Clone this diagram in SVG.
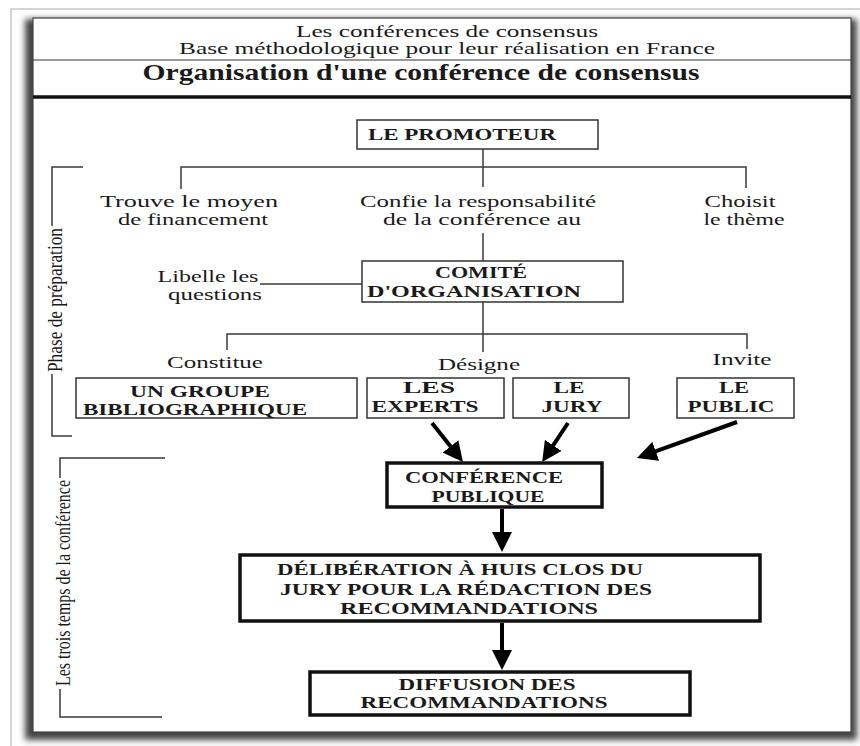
<svg xmlns="http://www.w3.org/2000/svg" width="860" height="746" viewBox="0 0 860 746">
<style>
  .t { font-family: "Liberation Serif", "Times New Roman", serif; fill: #1a1a1a; }
  .r { font-size: 16px; text-anchor: middle; }
  .b { font-size: 17px; font-weight: bold; text-anchor: middle; }
  .thin { fill: #fff; stroke: #333; stroke-width: 1.5; }
  .thick { fill: #fff; stroke: #111; stroke-width: 3.5; }
  .ln { fill: none; stroke: #3a3a3a; stroke-width: 1.5; }
  .arr { fill: none; stroke: #000; stroke-width: 4; marker-end: url(#head); }
</style>
<defs>
  <filter id="sh" x="-5%" y="-5%" width="110%" height="110%">
    <feGaussianBlur stdDeviation="3"/>
  </filter>
  <marker id="head" viewBox="0 0 20 20" refX="4" refY="10" markerWidth="20" markerHeight="20" markerUnits="userSpaceOnUse" orient="auto">
    <path d="M0,0 L20,10 L0,20 z" fill="#000"/>
  </marker>
</defs>
<rect width="860" height="746" fill="#fff"/>
<path d="M11,746 V9 H860" fill="none" stroke="#c8c8c8" stroke-width="1.5"/>
<g id="frame">
  <rect x="25" y="19" width="832" height="721" fill="#444" filter="url(#sh)"/>
  <rect x="33" y="18" width="818" height="714" fill="#fff" stroke="#444" stroke-width="1.2"/>
</g>
<g id="header">
  <text class="t r" x="447" y="37" textLength="302" lengthAdjust="spacingAndGlyphs">Les conférences de consensus</text>
  <text class="t r" x="447" y="54" textLength="536" lengthAdjust="spacingAndGlyphs">Base méthodologique pour leur réalisation en France</text>
  <line x1="33" y1="60" x2="851" y2="60" stroke="#333" stroke-width="1.2"/>
  <text class="t" x="421" y="80" font-size="23" font-weight="bold" text-anchor="middle" textLength="557" lengthAdjust="spacingAndGlyphs">Organisation d'une conférence de consensus</text>
  <line x1="33" y1="97" x2="851" y2="97" stroke="#111" stroke-width="3.5"/>
</g>
<g id="brackets">
  <path class="ln" d="M83,167 H52 V226 M52,374 V436 H72"/>
  <text class="t" font-size="20" text-anchor="middle" transform="translate(62,300) rotate(-90)" textLength="144" lengthAdjust="spacingAndGlyphs">Phase de préparation</text>
  <path class="ln" d="M165,458 H60 V478 M60,689 V717 H162"/>
  <text class="t" font-size="20" text-anchor="middle" transform="translate(70,583) rotate(-90)" textLength="206" lengthAdjust="spacingAndGlyphs">Les trois temps de la conférence</text>
</g>
<g id="connectors">
  <path class="ln" d="M483,149 V187"/>
  <path class="ln" d="M181,189 V167 H746 V188"/>
  <path class="ln" d="M483,233 V261"/>
  <path class="ln" d="M260,284 H362"/>
  <path class="ln" d="M483,302 V352"/>
  <path class="ln" d="M227,350 V334 H747 V349"/>
  <line class="arr" x1="432" y1="423" x2="453" y2="449.5"/>
  <line class="arr" x1="568" y1="423" x2="551" y2="448.7"/>
  <line class="arr" x1="737" y1="422" x2="652" y2="452.6"/>
  <line class="arr" x1="502" y1="509" x2="502" y2="536"/>
  <line class="arr" x1="502" y1="623" x2="502" y2="654"/>
</g>
<g id="labels">
  <text class="t r" x="189" y="207" textLength="178" lengthAdjust="spacingAndGlyphs">Trouve le moyen</text>
  <text class="t r" x="193" y="225" textLength="150" lengthAdjust="spacingAndGlyphs">de financement</text>
  <text class="t r" x="478" y="207" textLength="236" lengthAdjust="spacingAndGlyphs">Confie la responsabilité</text>
  <text class="t r" x="482" y="225" textLength="198" lengthAdjust="spacingAndGlyphs">de la conférence au</text>
  <text class="t r" x="740" y="207" textLength="71" lengthAdjust="spacingAndGlyphs">Choisit</text>
  <text class="t r" x="744" y="225" textLength="81" lengthAdjust="spacingAndGlyphs">le thème</text>
  <text class="t r" x="208" y="282" textLength="101" lengthAdjust="spacingAndGlyphs">Libelle les</text>
  <text class="t r" x="215" y="300" textLength="94" lengthAdjust="spacingAndGlyphs">questions</text>
  <text class="t r" x="215" y="368" textLength="96" lengthAdjust="spacingAndGlyphs">Constitue</text>
  <text class="t r" x="479" y="370" textLength="82" lengthAdjust="spacingAndGlyphs">Désigne</text>
  <text class="t r" x="742" y="365" textLength="59" lengthAdjust="spacingAndGlyphs">Invite</text>
</g>
<g id="promoteur">
  <rect class="thin" x="357" y="120" width="241" height="29"/>
  <text class="t b" x="462" y="140" textLength="188" lengthAdjust="spacingAndGlyphs">LE PROMOTEUR</text>
</g>
<g id="comite">
  <rect class="thin" x="362" y="261" width="261" height="41"/>
  <text class="t b" x="481" y="278" textLength="92" lengthAdjust="spacingAndGlyphs">COMITÉ</text>
  <text class="t b" x="474" y="297" textLength="214" lengthAdjust="spacingAndGlyphs">D'ORGANISATION</text>
</g>
<g id="groupe">
  <rect class="thin" x="76" y="378" width="281" height="40"/>
  <text class="t b" x="200" y="397" textLength="140" lengthAdjust="spacingAndGlyphs">UN GROUPE</text>
  <text class="t b" x="195" y="415" textLength="224" lengthAdjust="spacingAndGlyphs">BIBLIOGRAPHIQUE</text>
</g>
<g id="experts">
  <rect class="thin" x="367" y="378" width="137" height="40"/>
  <text class="t b" x="429" y="393" textLength="52" lengthAdjust="spacingAndGlyphs">LES</text>
  <text class="t b" x="425" y="412" textLength="107" lengthAdjust="spacingAndGlyphs">EXPERTS</text>
</g>
<g id="jury">
  <rect class="thin" x="513" y="378" width="116" height="40"/>
  <text class="t b" x="569" y="393" textLength="31" lengthAdjust="spacingAndGlyphs">LE</text>
  <text class="t b" x="572" y="412" textLength="61" lengthAdjust="spacingAndGlyphs">JURY</text>
</g>
<g id="public">
  <rect class="thin" x="677" y="378" width="117" height="40"/>
  <text class="t b" x="734" y="393" textLength="30" lengthAdjust="spacingAndGlyphs">LE</text>
  <text class="t b" x="731" y="412" textLength="87" lengthAdjust="spacingAndGlyphs">PUBLIC</text>
</g>
<g id="conference">
  <rect class="thick" x="387" y="463" width="215" height="44"/>
  <text class="t b" x="484" y="483" textLength="158" lengthAdjust="spacingAndGlyphs">CONFÉRENCE</text>
  <text class="t b" x="488" y="502" textLength="113" lengthAdjust="spacingAndGlyphs">PUBLIQUE</text>
</g>
<g id="deliberation">
  <rect class="thick" x="240" y="555" width="520" height="66"/>
  <text class="t b" x="460" y="575" textLength="366" lengthAdjust="spacingAndGlyphs">DÉLIBÉRATION À HUIS CLOS DU</text>
  <text class="t b" x="466" y="595" textLength="372" lengthAdjust="spacingAndGlyphs">JURY POUR LA RÉDACTION DES</text>
  <text class="t b" x="469" y="614" textLength="258" lengthAdjust="spacingAndGlyphs">RECOMMANDATIONS</text>
</g>
<g id="diffusion">
  <rect class="thick" x="310" y="672" width="380" height="43"/>
  <text class="t b" x="487" y="690" textLength="177" lengthAdjust="spacingAndGlyphs">DIFFUSION DES</text>
  <text class="t b" x="484" y="708" textLength="247" lengthAdjust="spacingAndGlyphs">RECOMMANDATIONS</text>
</g>
</svg>
